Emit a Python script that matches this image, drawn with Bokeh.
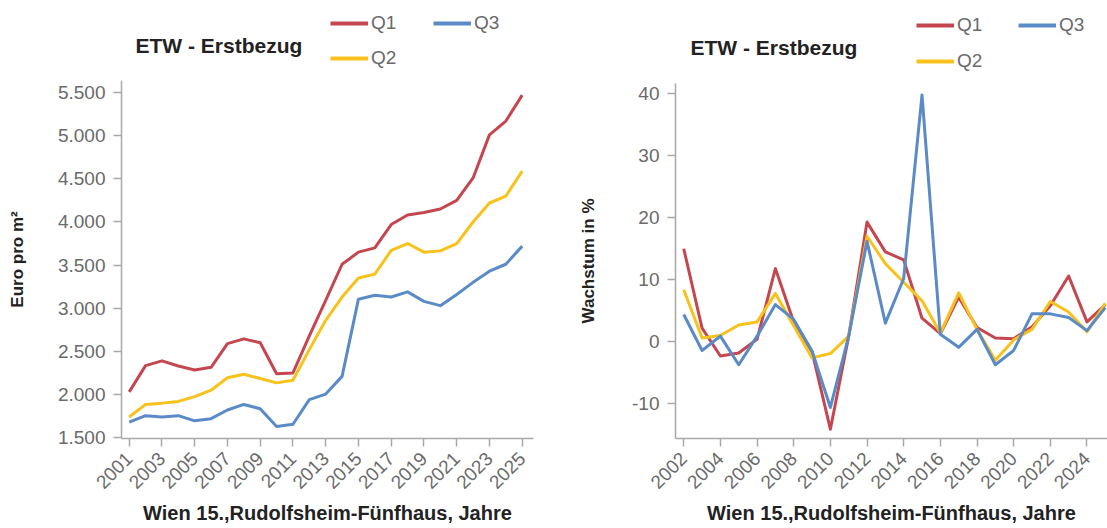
from bokeh.plotting import figure
from bokeh.models import Legend, LegendItem, Label, FixedTicker, ColumnDataSource, Range1d
from bokeh.layouts import column, row
from bokeh.embed import file_html
from bokeh.resources import INLINE
import numpy as np
import math

# ---------------- data ----------------
years_level = list(range(2001, 2026))
q1_level = [2030, 2335, 2390, 2330, 2285, 2315, 2590, 2645, 2600, 2240, 2250, 2680, 3090,
            3510, 3650, 3700, 3970, 4080, 4110, 4150, 4250, 4510, 5010, 5170, 5470]
q2_level = [1740, 1885, 1900, 1920, 1975, 2050, 2195, 2235, 2185, 2135, 2165, 2520, 2860,
            3130, 3350, 3395, 3670, 3750, 3650, 3665, 3750, 4000, 4220, 4300, 4590]
q3_level = [1680, 1755, 1740, 1755, 1695, 1720, 1820, 1885, 1835, 1630, 1655, 1940, 2005,
            2210, 3105, 3150, 3130, 3190, 3080, 3030, 3160, 3300, 3430, 3510, 3720]

years_growth = list(range(2002, 2026))
q1_growth = [15.0, 2.2, -2.3, -1.8, 0.4, 11.8, 3.2, -1.6, -14.1, 0.9, 19.3, 14.5, 13.2,
             3.8, 1.3, 7.2, 2.3, 0.6, 0.5, 2.4, 5.8, 10.6, 3.2, 6.0]
q2_growth = [8.4, 0.6, 1.0, 2.7, 3.2, 7.8, 2.6, -2.6, -1.9, 0.9, 17.0, 12.6, 9.6,
             6.6, 1.4, 7.9, 2.0, -3.0, 0.3, 2.0, 6.5, 4.8, 1.6, 6.2]
q3_growth = [4.4, -1.4, 0.9, -3.7, 0.9, 6.0, 3.6, -1.5, -10.6, 0.9, 16.2, 3.0, 10.2,
             39.8, 1.2, -0.9, 2.0, -3.7, -1.4, 4.5, 4.5, 3.9, 1.8, 5.5]

series_names = ["Q1", "Q2", "Q3"]
level_y_ticks = [1500, 2000, 2500, 3000, 3500, 4000, 4500, 5000, 5500]
level_y_labels = ["1.500", "2.000", "2.500", "3.000", "3.500", "4.000", "4.500", "5.000", "5.500"]
level_x_ticks = list(range(2001, 2026, 2))
growth_y_ticks = [-10, 0, 10, 20, 30, 40]
growth_y_labels = ["-10", "0", "10", "20", "30", "40"]
growth_x_ticks = list(range(2002, 2025, 2))

chart_title = "ETW - Erstbezug"
x_title = "Wien 15.,Rudolfsheim-Fünfhaus, Jahre"
level_y_title = "Euro pro m²"
growth_y_title = "Wachstum in %"

colors = {"Q1": "#c4474f", "Q2": "#f7c21c", "Q3": "#5b8bc7"}

FONT = "Liberation Sans"
TICK_COLOR = "#6a6a6a"
AXIS_COLOR = "#a8a8a8"
TITLE_COLOR = "#222222"

HEADER_H = 80


def style_axes(p, xticks, yticks, ylabels, ytitle, ystandoff):
    p.xgrid.visible = False
    p.ygrid.visible = False
    p.outline_line_color = None
    p.background_fill_color = "white"
    p.border_fill_color = "white"
    p.xaxis.ticker = FixedTicker(ticks=xticks)
    p.yaxis.ticker = FixedTicker(ticks=yticks)
    p.yaxis.major_label_overrides = {t: l for t, l in zip(yticks, ylabels)}
    p.xaxis.major_label_orientation = math.pi / 4
    for ax in (p.xaxis[0], p.yaxis[0]):
        ax.axis_line_color = AXIS_COLOR
        ax.axis_line_width = 1.5
        ax.major_tick_line_color = AXIS_COLOR
        ax.major_tick_line_width = 1.5
        ax.major_tick_out = 8
        ax.major_tick_in = 0
        ax.minor_tick_line_color = None
        ax.major_label_text_font = FONT
        ax.major_label_text_font_size = "19px"
        ax.major_label_text_color = TICK_COLOR
        ax.axis_label_text_font = FONT
        ax.axis_label_text_font_style = "bold"
        ax.axis_label_text_color = TITLE_COLOR
    p.xaxis.axis_label_text_font_size = "20px"
    p.yaxis.axis_label_text_font_size = "17px"
    p.yaxis.major_label_standoff = 8
    p.xaxis.major_label_standoff = 9
    p.xaxis.axis_label = x_title
    p.yaxis.axis_label = ytitle
    p.xaxis.axis_label_standoff = 4
    p.yaxis.axis_label_standoff = ystandoff


def add_lines(p, xs, data):
    for name in series_names:
        src = ColumnDataSource(dict(x=xs, y=data[name]))
        p.line("x", "y", source=src, line_color=colors[name], line_width=3, line_join="round")


def make_header(width, border_left, border_right, title_x, title_y, legend_pos):
    frame_w = width - border_left - border_right
    h = figure(width=width, height=HEADER_H, output_backend="svg", toolbar_location=None,
               x_axis_type=None, y_axis_type=None,
               x_range=Range1d(0, frame_w), y_range=Range1d(0, HEADER_H),
               min_border_left=border_left, min_border_right=border_right,
               min_border_top=0, min_border_bottom=0)
    h.outline_line_color = None
    h.background_fill_color = "white"
    h.border_fill_color = "white"
    h.add_layout(Label(x=title_x, y=title_y, text=chart_title, text_font=FONT,
                       text_font_size="21px", text_font_style="bold",
                       text_color=TITLE_COLOR, text_baseline="middle"))
    for name in series_names:
        # legend key only: a single NaN point draws nothing in the header itself
        src = ColumnDataSource(dict(x=np.array([np.nan]), y=np.array([np.nan])))
        rend = h.line("x", "y", source=src, line_color=colors[name], line_width=4)
        lg = Legend(items=[LegendItem(label=name, renderers=[rend])], location=legend_pos[name],
                    padding=0, margin=0, spacing=0, glyph_width=38, glyph_height=24,
                    label_height=24, label_standoff=3, label_text_font=FONT,
                    label_text_font_size="19px", label_text_color=TICK_COLOR,
                    background_fill_alpha=0, border_line_alpha=0)
        h.add_layout(lg, "center")
    return h


W1, W2 = 556, 551
B1L, B1R = 121, 23
B2L, B2R = 119, 0

# ---------------- left chart ----------------
h1 = make_header(W1, B1L, B1R, 14, 35, {"Q1": (209, 45), "Q2": (209, 10), "Q3": (312, 45)})
p1 = figure(width=W1, height=448, output_backend="svg", toolbar_location=None,
            x_range=Range1d(2000.53, 2025.69), y_range=Range1d(1490, 5640),
            min_border_left=B1L, min_border_right=B1R, min_border_top=0, min_border_bottom=90)
style_axes(p1, level_x_ticks, level_y_ticks, level_y_labels, level_y_title, 28)
add_lines(p1, years_level, {"Q1": q1_level, "Q2": q2_level, "Q3": q3_level})

# ---------------- right chart ----------------
h2 = make_header(W2, B2L, B2R, 15, 33, {"Q1": (241, 43), "Q2": (241, 7), "Q3": (343, 43)})
p2 = figure(width=W2, height=448, output_backend="svg", toolbar_location=None,
            x_range=Range1d(2001.55, 2025.12), y_range=Range1d(-15.6, 41.65),
            min_border_left=B2L, min_border_right=B2R, min_border_top=3, min_border_bottom=90)
style_axes(p2, growth_x_ticks, growth_y_ticks, growth_y_labels, growth_y_title, 31)
add_lines(p2, years_growth, {"Q1": q1_growth, "Q2": q2_growth, "Q3": q3_growth})

layout = row(column(h1, p1), column(h2, p2))
open("out.html", "w").write(file_html(layout, INLINE))
